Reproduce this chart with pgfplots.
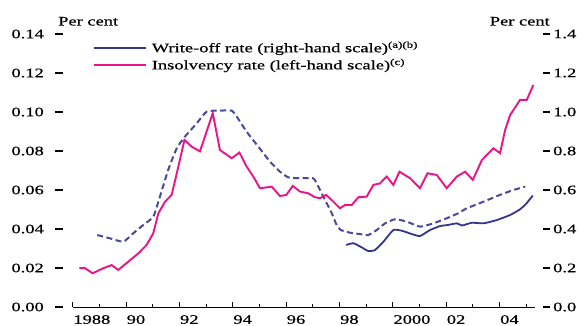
\documentclass[border=0pt]{standalone}
\usepackage{pgfplots}
\pgfplotsset{compat=1.18}
\usepackage{fontspec}
\setmainfont{Liberation Serif}[FakeStretch=1.42, FakeBold=0.6]
\definecolor{navy}{RGB}{52,54,142}
\definecolor{pink}{RGB}{234,20,134}
\begin{document}
\begin{tikzpicture}[font=\fontsize{13bp}{15bp}\selectfont]
\path[use as bounding box] (-72.7bp,-19bp) rectangle (508.3bp,307bp);
\pgfplotsset{
  common/.style={
    scale only axis, width=462.3bp, height=273bp,
    xmin=1988, xmax=2005.33,
    axis line style={line width=0.9bp},
    /pgf/number format/assume math mode=true,
    tick label style={font=\fontsize{13bp}{15bp}\selectfont},
    ytick style={draw=none},
  }
}
% right-hand scale (write-off rates)
\begin{axis}[common,
  ymin=0, ymax=1.4,
  axis x line=none,
  axis y line*=right,
  y axis line style={draw=none},
  ytick={0,0.2,...,1.4},
  yticklabel style={anchor=west, inner xsep=0pt, xshift=8bp,
    /pgf/number format/.cd, fixed, fixed zerofill, precision=1},
  yticklabel={\rule[3.6bp]{7bp}{1.6bp}\hspace{3bp}\pgfmathprintnumber{\tick}},
]
\addplot[navy!90, line width=2bp, dash pattern=on 6bp off 3.5bp, smooth, tension=0.3] coordinates {
(1988.92,0.369) (1989.4,0.352) (1989.9,0.335) (1990.27,0.378) (1990.65,0.421)
(1991.02,0.463) (1991.27,0.566) (1991.58,0.703) (1991.9,0.814) (1992.21,0.874)
(1992.65,0.942) (1993.02,1.002) (1993.52,1.007) (1993.96,1.007) (1994.15,0.976)
(1994.52,0.899) (1994.96,0.822) (1995.4,0.745) (1995.77,0.694) (1996.08,0.665)
(1996.52,0.660) (1997.02,0.660) (1997.21,0.617) (1997.46,0.549) (1997.71,0.481)
(1997.88,0.425) (1998.05,0.395) (1998.4,0.381) (1998.77,0.374) (1999.08,0.369)
(1999.4,0.395) (1999.71,0.429) (2000.08,0.450) (2000.52,0.438) (2001.02,0.412)
(2001.52,0.429) (2002.02,0.455) (2002.46,0.481) (2002.77,0.506) (2003.4,0.540)
(2004.02,0.575) (2004.52,0.600) (2004.96,0.617)
};
\addplot[navy, line width=1.8bp, smooth, tension=0.3] coordinates {
(1998.25,0.318) (1998.52,0.327) (1998.83,0.306) (1999.08,0.287) (1999.33,0.292)
(1999.65,0.335) (2000.02,0.395) (2000.34,0.391) (2000.71,0.374) (2001.02,0.364)
(2001.4,0.395) (2001.77,0.415) (2002.08,0.421) (2002.4,0.429) (2002.6,0.418)
(2002.96,0.432) (2003.4,0.429) (2003.9,0.446) (2004.4,0.472) (2004.77,0.501)
(2005.0,0.530) (2005.25,0.572)
};
\end{axis}
% left-hand scale (insolvency rate)
\begin{axis}[common,
  ymin=0, ymax=0.14,
  axis x line*=bottom,
  axis y line*=left,
  y axis line style={draw=none},
  ytick={0,0.02,...,0.14},
  yticklabel style={anchor=east, inner xsep=0pt, xshift=-9.7bp,
    /pgf/number format/.cd, fixed, fixed zerofill, precision=2},
  yticklabel={\pgfmathprintnumber{\tick}\hspace{11bp}\rule[3.6bp]{8bp}{1.6bp}},
  xtick={1988,1990,...,2004},
  xticklabels={1988,90,92,94,96,98,2000,02,04},
  minor xtick={1989,1991,...,2005},
  xtick align=inside,
  major tick length=5bp, minor tick length=2.5bp,
  x tick style={line width=0.9bp, black},
  xticklabel style={anchor=north west, inner sep=0pt, xshift=0.5bp, yshift=-8bp},
  legend image code/.code={\draw[#1] (0bp,0bp) -- (52bp,0bp);},
  legend cell align=left,
  legend style={at={(0.0433,0.973)}, anchor=north west, draw=none, fill=none,
    inner sep=0pt, row sep=5bp, column sep=5bp,
    nodes={inner sep=0pt, font=\fontsize{13bp}{15bp}\selectfont}},
]
\addlegendimage{navy, line width=1.8bp}
\addlegendentry{Write-off rate (right-hand scale)\textsuperscript{(a)(b)}}
\addplot[pink, line width=1.9bp] coordinates {
(1988.25,0.0199) (1988.46,0.0199) (1988.75,0.0173) (1989.15,0.0199) (1989.46,0.0215)
(1989.71,0.0190) (1990.15,0.0240) (1990.46,0.0275) (1990.77,0.0318) (1991.02,0.0378)
(1991.21,0.0480) (1991.46,0.0540) (1991.71,0.0575) (1991.96,0.0720) (1992.19,0.0857)
(1992.46,0.0822) (1992.77,0.0798) (1993.25,0.0994) (1993.52,0.0805) (1993.96,0.0763)
(1994.25,0.0792) (1994.52,0.0720) (1994.77,0.0669) (1995.02,0.0609) (1995.46,0.0617)
(1995.77,0.0569) (1996.01,0.0575) (1996.25,0.0621) (1996.52,0.0592) (1996.83,0.0583)
(1997.08,0.0563) (1997.27,0.0558) (1997.5,0.0575) (1997.77,0.0540) (1998.02,0.0506)
(1998.21,0.0523) (1998.46,0.0523) (1998.71,0.0563) (1999.02,0.0566) (1999.27,0.0626)
(1999.52,0.0634) (1999.77,0.0669) (2000.02,0.0626) (2000.25,0.0694) (2000.65,0.0660)
(2001.02,0.0609) (2001.3,0.0686) (2001.65,0.0677) (2002.02,0.0609) (2002.4,0.0669)
(2002.71,0.0694) (2003.0,0.0652) (2003.34,0.0754) (2003.77,0.0814) (2004.02,0.0789)
(2004.21,0.0908) (2004.4,0.0985) (2004.77,0.1062) (2005.02,0.1062) (2005.27,0.1139)
};
\addlegendentry{Insolvency rate (left-hand scale)\textsuperscript{(c)}}
\end{axis}
\node[anchor=base west, inner sep=0pt] at (-14.7bp,281.5bp) {Per cent};
\node[anchor=base east, inner sep=0pt] at (477.3bp,281.5bp) {Per cent};
\end{tikzpicture}
\end{document}
